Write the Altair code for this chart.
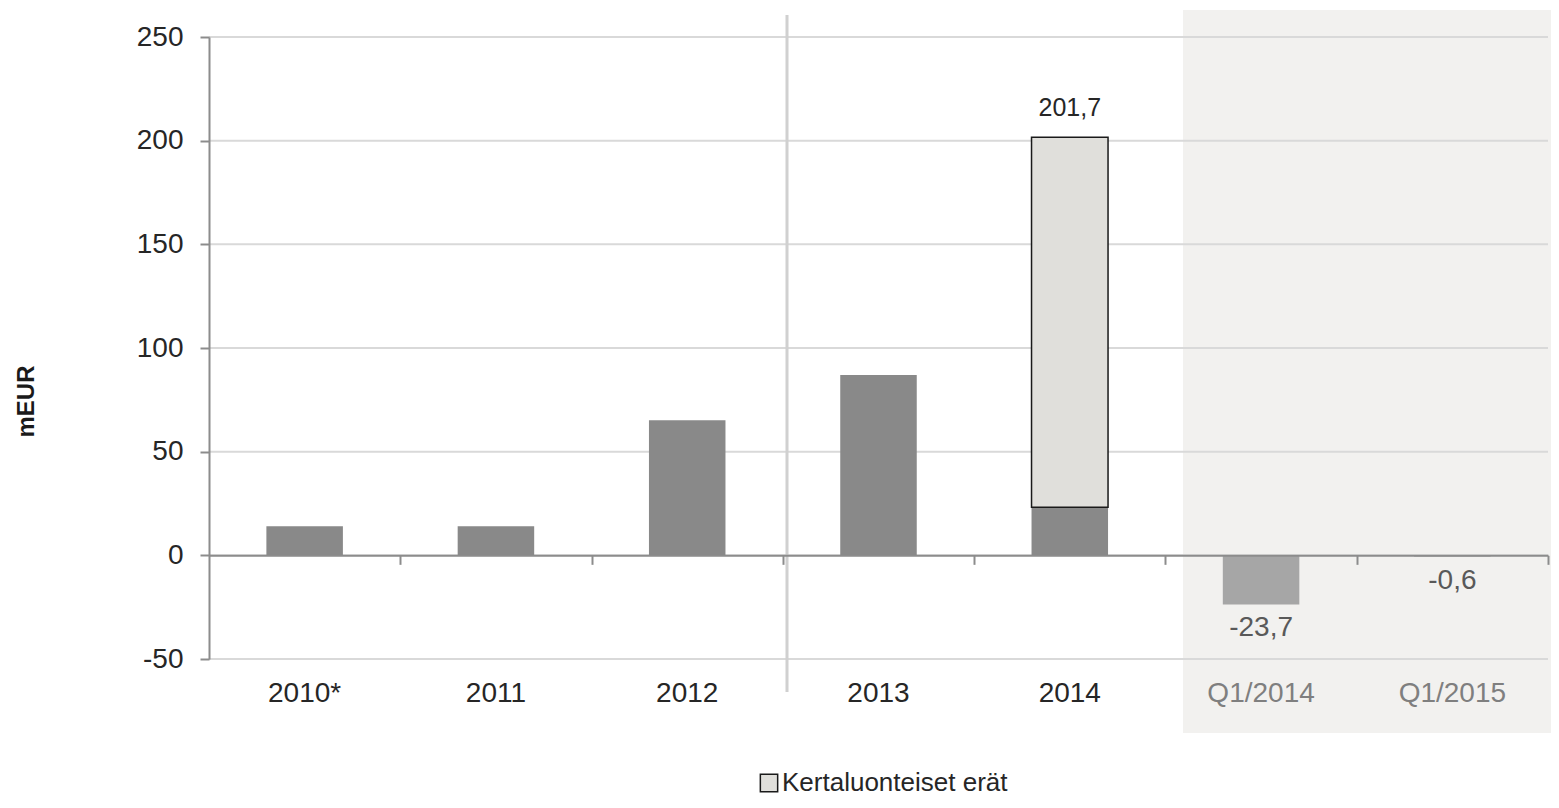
import altair as alt
import pandas as pd

# ---- data ----
categories = ["2010*", "2011", "2012", "2013", "2014", "Q1/2014", "Q1/2015"]
base_values = [14.0, 14.0, 65.2, 87.0, 23.2, -23.7, -0.6]
oneoff_category = "2014"
oneoff_start = 23.2
oneoff_end = 201.7
oneoff_name = "Kertaluonteiset erät"
label_categories = ["2014", "Q1/2014", "Q1/2015"]
label_values = [201.7, -23.7, -0.6]
y_ticks = [-50, 0, 50, 100, 150, 200, 250]
y_title = "mEUR"

FONT = "Liberation Sans"
W = 1339
H = 622
STEP = W / len(categories)

base_df = pd.DataFrame({"cat": categories, "value": base_values})
oneoff_df = pd.DataFrame({"cat": [oneoff_category], "start": [oneoff_start],
                          "end": [oneoff_end], "series": [oneoff_name]})
labels_df = pd.DataFrame({"cat": label_categories, "value": label_values,
                          "text": [f"{v:.1f}".replace(".", ",") for v in label_values]})
grid_df = pd.DataFrame({"v": y_ticks})
one_df = pd.DataFrame({"k": [0]})

x_scale = alt.Scale(domain=categories, paddingInner=0.6, paddingOuter=0.3)
y_scale = alt.Scale(domain=[-50, 250], nice=False, zero=False)

y_axis = alt.Axis(
    values=y_ticks, grid=False, domainColor="#8c8c8c", domainWidth=2,
    tickColor="#8c8c8c", tickWidth=2, tickSize=9,
    labelExpr="'' + datum.value",
    labelFont=FONT, labelFontSize=28, labelColor="#262626", labelPadding=17,
    title=y_title, titleFont=FONT, titleFontSize=24, titleFontWeight="bold",
    titleColor="#1a1a1a", titleAngle=270, titleX=-183, titleY=364,
    titleAlign="center", titleBaseline="middle", zindex=1)

# shaded quarter region (decoration)
bg = alt.Chart(one_df).mark_rect(color="#f2f1ef").encode(
    x=alt.value(974), x2=alt.value(1360), y=alt.value(-27), y2=alt.value(696)
)

# gridlines
grid = alt.Chart(grid_df).mark_rule(color="#d9d9d9", strokeWidth=2).encode(
    y=alt.Y("v:Q", scale=y_scale, axis=y_axis)
)

# vertical divider between 2012 and 2013 (decoration)
divider = alt.Chart(one_df).mark_rule(color="#d0d0d0", strokeWidth=3).encode(
    x=alt.value(578), y=alt.value(-22), y2=alt.value(655)
)

bars = alt.Chart(base_df).mark_bar().encode(
    x=alt.X("cat:N", scale=x_scale, sort=categories, axis=alt.Axis(
        orient="bottom", domain=False, ticks=False, grid=False, labelAngle=0,
        labelFont=FONT, labelFontSize=28, labelPadding=20,
        labelColor={"expr": "indexof(datum.label, 'Q1') === 0 ? '#7f7f7f' : '#262626'"},
        title=None, zindex=1)),
    y=alt.Y("value:Q", scale=y_scale, axis=y_axis),
    color=alt.condition("datum.cat === 'Q1/2014'", alt.value("#a6a6a6"), alt.value("#898989")),
)

oneoff = alt.Chart(oneoff_df).mark_bar(stroke="#1a1a1a", strokeWidth=1.5).encode(
    x=alt.X("cat:N", scale=x_scale, sort=categories, axis=alt.Axis(
        orient="bottom", offset=-(H * 50 / 300), labels=False, domain=True,
        domainColor="#8c8c8c", domainWidth=2, ticks=True, tickSize=9,
        tickColor="#8c8c8c", tickWidth=2, bandPosition=1, tickOffset=STEP * 0.3,
        grid=False, title=None, zindex=1)),
    y=alt.Y("start:Q", scale=y_scale, axis=y_axis),
    y2="end:Q",
    color=alt.Color("series:N", scale=alt.Scale(domain=[oneoff_name], range=["#e0dfdb"]),
                    legend=alt.Legend(
                        orient="none", legendX=547, legendY=733, title=None,
                        symbolType="square", symbolSize=300, symbolStrokeColor="#1a1a1a",
                        symbolStrokeWidth=1.5, labelFont=FONT, labelFontSize=26,
                        labelColor="#262626", labelOffset=0, labelLimit=0)),
)

pos_labels = alt.Chart(labels_df).transform_filter("datum.value > 0").mark_text(
    font=FONT, fontSize=25, color="#262626", baseline="middle", dy=-29
).encode(
    x=alt.X("cat:N", scale=x_scale, sort=categories, axis=None),
    y=alt.Y("value:Q", scale=y_scale, axis=y_axis),
    text="text:N",
)

neg_labels = alt.Chart(labels_df).transform_filter("datum.value < 0").mark_text(
    font=FONT, fontSize=28, color="#595959", baseline="middle", dy=24
).encode(
    x=alt.X("cat:N", scale=x_scale, sort=categories, axis=None),
    y=alt.Y("value:Q", scale=y_scale, axis=y_axis),
    text="text:N",
)

chart = alt.layer(bg, grid, divider, bars, oneoff, pos_labels, neg_labels).resolve_axis(
    x="independent"
).properties(
    width=W, height=H,
    autosize=alt.AutoSizeParams(type="none"),
    padding={"left": 201, "top": 29, "right": 3, "bottom": 139},
    background="white",
).configure_view(stroke=None)

chart.save("out.html", embed_options={"renderer": "svg", "actions": False})
